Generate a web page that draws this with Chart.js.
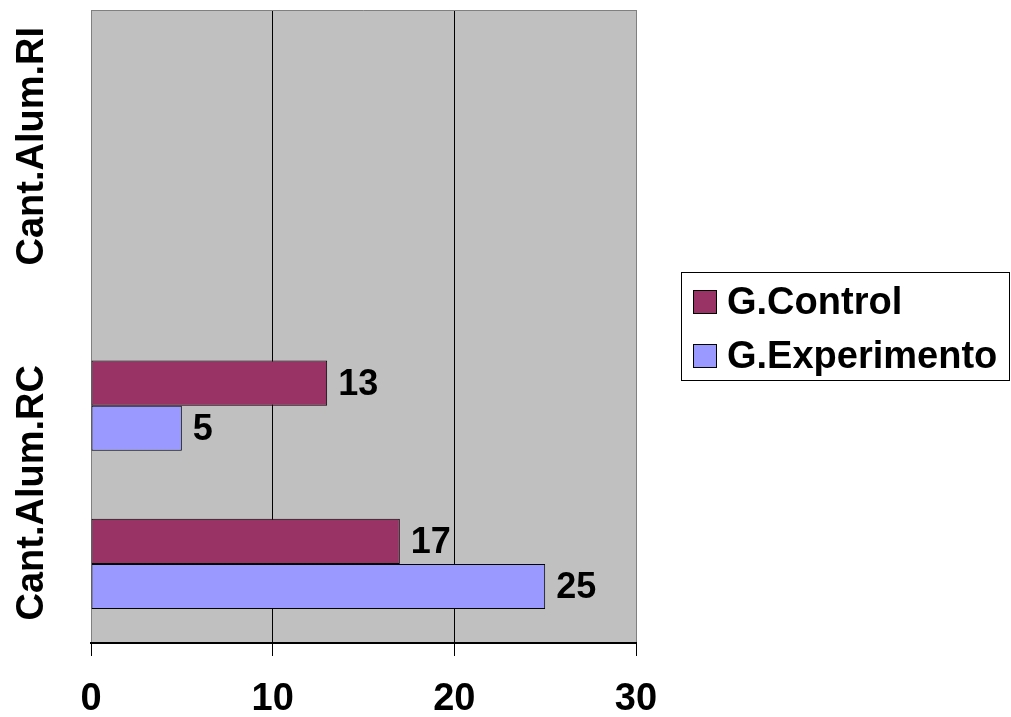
<!DOCTYPE html>
<html>
<head>
<meta charset="utf-8">
<script src="https://cdn.jsdelivr.net/npm/chart.js@4.4.0/dist/chart.umd.min.js"></script>
<style>
html,body{margin:0;padding:0;background:#fff;overflow:hidden}
#wrap{width:1011px;height:717px;position:relative}
</style>
</head>
<body>
<div id="wrap"><canvas id="c"></canvas></div>
<script>
// ---- data ----
const categories = ["Cant.Alum.RC", "", "Cant.Alum.RI", ""];
const seriesNames = ["G.Control", "G.Experimento"];
const controlValues = [17, 13, null, null];
const experimentoValues = [25, 5, null, null];
const xTickValues = [0, 10, 20, 30];
const seriesColors = ["#993366", "#9999FF"];

const FONT_FAMILY = '"Liberation Sans", Arial, Helvetica, sans-serif';
const VALUE_SIZE = 36;
const TEXT_SIZE = 38;

const plotDecor = {
  id: 'plotDecor',
  beforeDraw(chart) {
    const a = chart.chartArea, ctx = chart.ctx;
    ctx.save();
    ctx.fillStyle = '#C0C0C0';
    ctx.fillRect(a.left, a.top, a.right - a.left, a.bottom - a.top);
    ctx.restore();
  },
  afterDraw(chart) {
    const a = chart.chartArea, ctx = chart.ctx;
    ctx.save();
    // top border of plot area
    ctx.strokeStyle = '#808080';
    ctx.lineWidth = 1;
    ctx.beginPath();
    ctx.moveTo(a.left, a.top + 0.5);
    ctx.lineTo(a.right, a.top + 0.5);
    ctx.stroke();

    // value labels
    ctx.font = 'bold ' + VALUE_SIZE + 'px ' + FONT_FAMILY;
    ctx.fillStyle = '#000';
    ctx.textAlign = 'left';
    ctx.textBaseline = 'middle';
    chart.data.datasets.forEach((ds, di) => {
      const meta = chart.getDatasetMeta(di);
      meta.data.forEach((bar, i) => {
        const v = ds.data[i];
        if (v === null || v === undefined) return;
        ctx.fillText(String(v), bar.x + 11, bar.y + 2);
      });
    });

    // category labels (rotated, shown every other slot as in the original)
    const ys = chart.scales.y;
    const nudges = [8, -22];
    let k = 0;
    ctx.font = 'bold ' + TEXT_SIZE + 'px ' + FONT_FAMILY;
    ctx.textAlign = 'center';
    ctx.textBaseline = 'alphabetic';
    categories.forEach((lab, i) => {
      if (!lab) return;
      const p0 = ys.getPixelForValue(i);
      const p1 = ys.getPixelForValue(Math.min(i + 1, categories.length - 1));
      const cy = (p0 + p1) / 2 + (nudges[k++] || 0);
      ctx.save();
      ctx.translate(43, cy);
      ctx.rotate(-Math.PI / 2);
      ctx.fillText(lab, 0, 0);
      ctx.restore();
    });

    // legend
    const lx = 681, ly = 272, lw = 328, lh = 108;
    ctx.fillStyle = '#fff';
    ctx.fillRect(lx, ly, lw, lh);
    ctx.strokeStyle = '#000';
    ctx.lineWidth = 1;
    ctx.strokeRect(lx + 0.5, ly + 0.5, lw, lh);
    const rows = [290, 344];
    chart.data.datasets.forEach((ds, di) => {
      const sy = rows[di];
      ctx.fillStyle = ds.backgroundColor;
      ctx.fillRect(693, sy, 23, 23);
      ctx.strokeStyle = '#000';
      ctx.strokeRect(693.5, sy + 0.5, 23, 23);
      ctx.fillStyle = '#000';
      ctx.textAlign = 'left';
      ctx.textBaseline = 'alphabetic';
      ctx.font = 'bold ' + TEXT_SIZE + 'px ' + FONT_FAMILY;
      ctx.fillText(ds.label, 727, sy + 24);
    });
    ctx.restore();
  }
};

new Chart(document.getElementById('c'), {
  type: 'bar',
  data: {
    labels: categories,
    datasets: [
      { label: seriesNames[0], data: controlValues, backgroundColor: seriesColors[0],
        borderColor: '#000', borderWidth: 1, borderSkipped: false },
      { label: seriesNames[1], data: experimentoValues, backgroundColor: seriesColors[1],
        borderColor: '#000', borderWidth: 1, borderSkipped: false }
    ]
  },
  options: {
    indexAxis: 'y',
    responsive: true,
    maintainAspectRatio: false,
    animation: false,
    categoryPercentage: 0.57,
    barPercentage: 1.0,
    layout: { padding: { left: 91, right: 375, top: 10, bottom: 0 } },
    plugins: { legend: { display: false }, tooltip: { enabled: false } },
    scales: {
      x: {
        type: 'linear',
        min: xTickValues[0],
        max: xTickValues[xTickValues.length - 1],
        afterBuildTicks(scale) { scale.ticks = xTickValues.map(v => ({ value: v })); },
        afterFit(scale) { scale.height = 74; },
        ticks: {
          color: '#000',
          padding: 21,
          font: { family: FONT_FAMILY, size: TEXT_SIZE, weight: 'bold', lineHeight: 1.2 },
          callback: v => String(v)
        },
        grid: {
          color: c => (c.tick && (c.tick.value === xTickValues[0] || c.tick.value === xTickValues[xTickValues.length - 1])) ? '#808080' : '#000',
          tickColor: '#000',
          lineWidth: 1,
          tickLength: 13,
          drawTicks: true
        },
        border: { display: true, color: '#000', width: 2 }
      },
      y: {
        type: 'category',
        reverse: true,
        afterFit(scale) { scale.width = 0; },
        ticks: { display: false },
        grid: { display: false, drawTicks: false },
        border: { display: false }
      }
    }
  },
  plugins: [plotDecor]
});
</script>
</body>
</html>
